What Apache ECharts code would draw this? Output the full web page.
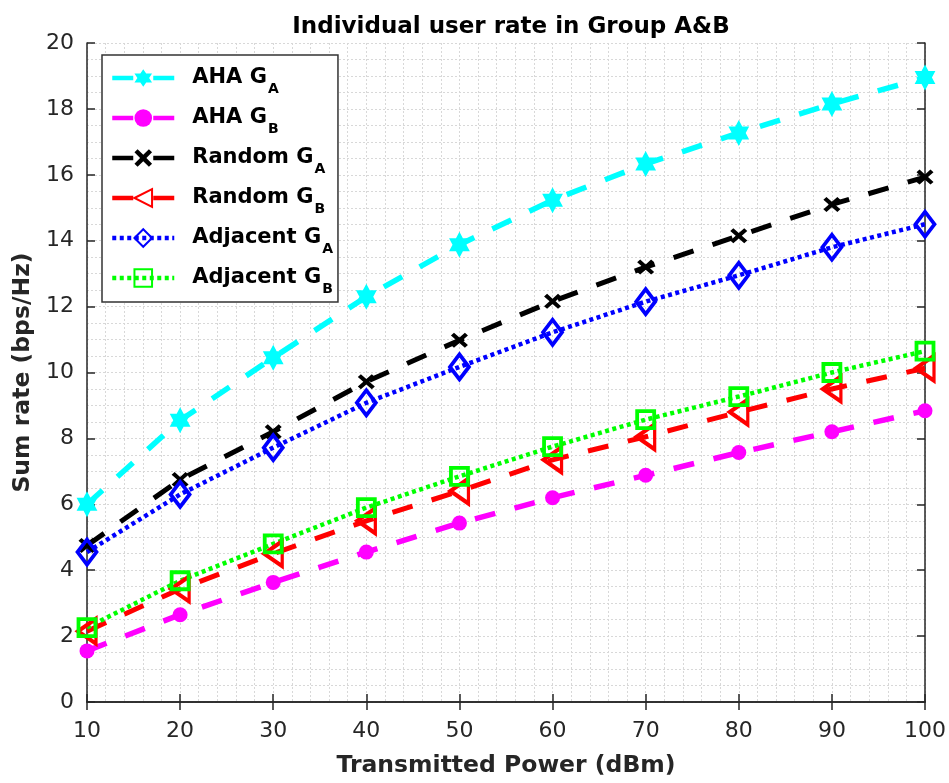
<!DOCTYPE html>
<html>
<head>
<meta charset="utf-8">
<script src="https://cdn.jsdelivr.net/npm/echarts@6/dist/echarts.min.js"></script>
<style>
  html, body { margin: 0; padding: 0; background: #fff; }
  #chart { width: 949px; height: 783px; }
</style>
</head>
<body>
<div id="chart"></div>
<script>
// x axis: transmitted power
const powers = [10, 20, 30, 40, 50, 60, 70, 80, 90, 100];

// sum rates
const ahaGA = [6.0, 8.55, 10.45, 12.3, 13.88, 15.23, 16.33, 17.27, 18.15, 18.95];
const ahaGB = [1.55, 2.65, 3.63, 4.55, 5.43, 6.2, 6.88, 7.57, 8.2, 8.84];
const randomGA = [4.75, 6.75, 8.2, 9.72, 10.98, 12.16, 13.2, 14.15, 15.1, 15.93];
const randomGB = [2.15, 3.43, 4.5, 5.5, 6.4, 7.35, 8.05, 8.8, 9.5, 10.13];
const adjacentGA = [4.55, 6.3, 7.72, 9.08, 10.17, 11.22, 12.15, 12.95, 13.8, 14.5];
const adjacentGB = [2.26, 3.68, 4.8, 5.9, 6.85, 7.75, 8.57, 9.27, 10.0, 10.65];

// legend labels (last letter is drawn as subscript)
const seriesNames = ["AHA GA", "AHA GB", "Random GA", "Random GB", "Adjacent GA", "Adjacent GB"];

const FONT = "DejaVu Sans, Verdana, sans-serif";
const AXIS_COLOR = "#262626";

// marker paths
const hexagram = "path://M0,-10 L2.887,-5 L8.66,-5 L5.774,0 L8.66,5 L2.887,5 L0,10 L-2.887,5 L-8.66,5 L-5.774,0 L-8.66,-5 L-2.887,-5 Z";
const crossX = "path://M-7,-4.5 L-4.5,-7 L0,-2.5 L4.5,-7 L7,-4.5 L2.5,0 L7,4.5 L4.5,7 L0,2.5 L-4.5,7 L-7,4.5 L-2.5,0 Z";

const toPoints = (arr) => powers.map((p, i) => [p, arr[i]]);

const chart = echarts.init(document.getElementById("chart"));

const makeSeries = (name, values, color, dash, width, symbol, size, hollow, rotate) => ({
  name: name,
  type: "line",
  data: toPoints(values),
  symbol: symbol,
  symbolSize: size,
  symbolRotate: rotate || 0,
  symbolKeepAspect: true,
  showAllSymbol: true,
  lineStyle: { color: color, width: width, type: dash, cap: "butt" },
  itemStyle: hollow
    ? { color: "rgba(255,255,255,0)", borderColor: color, borderWidth: 3.8 }
    : { color: color, borderWidth: 0 },
  emphasis: { disabled: true },
  animation: false,
});

const longDash = [21, 20];
const dots = [4, 3.5];

const series = [
  makeSeries("AHA GA", ahaGA, "#00ffff", longDash, 5.5, hexagram, [24, 26], false),
  makeSeries("AHA GB", ahaGB, "#ff00ff", longDash, 5.5, "circle", 15, false),
  makeSeries("Random GA", randomGA, "#000000", longDash, 5, crossX, [17, 15], false),
  makeSeries("Random GB", randomGB, "#ff0000", longDash, 5, "triangle", [25, 18], true, 90),
  makeSeries("Adjacent GA", adjacentGA, "#0000ff", dots, 4.5, "diamond", [19, 25], true),
  makeSeries("Adjacent GB", adjacentGB, "#00ff00", dots, 4.5, "rect", 17, true),
];

const gridLine = { color: "#d8d8d8", width: 1, type: [2, 2] };
const axisLine = { show: true, lineStyle: { color: AXIS_COLOR, width: 1.5 } };
const axisTick = { show: true, inside: true, length: 8, lineStyle: { color: AXIS_COLOR, width: 1.5 } };

const option = {
  backgroundColor: "#fff",
  animation: false,
  title: {
    text: "Individual user rate in Group A&B",
    left: 506,
    top: 11,
    textAlign: "center",
    textStyle: { fontFamily: FONT, fontSize: 23, fontWeight: "bold", color: "#000" },
  },
  grid: { left: 87, right: 24, top: 43, bottom: 79, containLabel: false },
  legend: {
    data: seriesNames,
    orient: "vertical",
    left: 102,
    top: 55,
    padding: [5, 5, 6, 8],
    itemWidth: 62,
    itemHeight: 22,
    itemGap: 4,
    backgroundColor: "#fff",
    borderColor: "#333",
    borderWidth: 1.5,
    borderRadius: 0,
    lineStyle: { width: 4.5 },
    formatter: (name) => {
      const main = name.slice(0, -1);
      const sub = name.slice(-1);
      return "{m|" + main + "}{s|" + sub + "}";
    },
    textStyle: {
      color: "#000",
      rich: {
        m: { fontFamily: FONT, fontSize: 21, fontWeight: "bold", color: "#000", lineHeight: 40, padding: [0, 0, 0, 13] },
        s: { fontFamily: FONT, fontSize: 14, fontWeight: "bold", color: "#000", lineHeight: 15, padding: [22, 0, 0, 1] },
      },
    },
  },
  xAxis: [
    {
      type: "value",
      min: 10,
      max: 100,
      interval: 10,
      name: "Transmitted Power (dBm)",
      nameLocation: "middle",
      nameGap: 52,
      nameTextStyle: { fontFamily: FONT, fontSize: 23.5, fontWeight: "bold", color: AXIS_COLOR },
      axisLine: axisLine,
      axisTick: axisTick,
      axisLabel: { fontFamily: FONT, fontSize: 22, color: AXIS_COLOR, margin: 18 },
      splitLine: { show: true, lineStyle: gridLine },
      minorTick: { show: false, splitNumber: 5 },
      minorSplitLine: { show: true, lineStyle: gridLine },
    },
    {
      type: "value",
      position: "top",
      min: 10,
      max: 100,
      interval: 10,
      axisLine: axisLine,
      axisTick: axisTick,
      axisLabel: { show: false },
      splitLine: { show: false },
    },
  ],
  yAxis: [
    {
      type: "value",
      min: 0,
      max: 20,
      interval: 2,
      name: "Sum rate (bps/Hz)",
      nameLocation: "middle",
      nameGap: 48,
      nameTextStyle: { fontFamily: FONT, fontSize: 23.5, fontWeight: "bold", color: AXIS_COLOR },
      axisLine: axisLine,
      axisTick: axisTick,
      axisLabel: { fontFamily: FONT, fontSize: 22, color: AXIS_COLOR, margin: 13 },
      splitLine: { show: true, lineStyle: gridLine },
      minorTick: { show: false, splitNumber: 4 },
      minorSplitLine: { show: true, lineStyle: gridLine },
    },
    {
      type: "value",
      position: "right",
      min: 0,
      max: 20,
      interval: 2,
      axisLine: axisLine,
      axisTick: axisTick,
      axisLabel: { show: false },
      splitLine: { show: false },
    },
  ],
  series: series,
};

chart.setOption(option);
</script>
</body>
</html>
